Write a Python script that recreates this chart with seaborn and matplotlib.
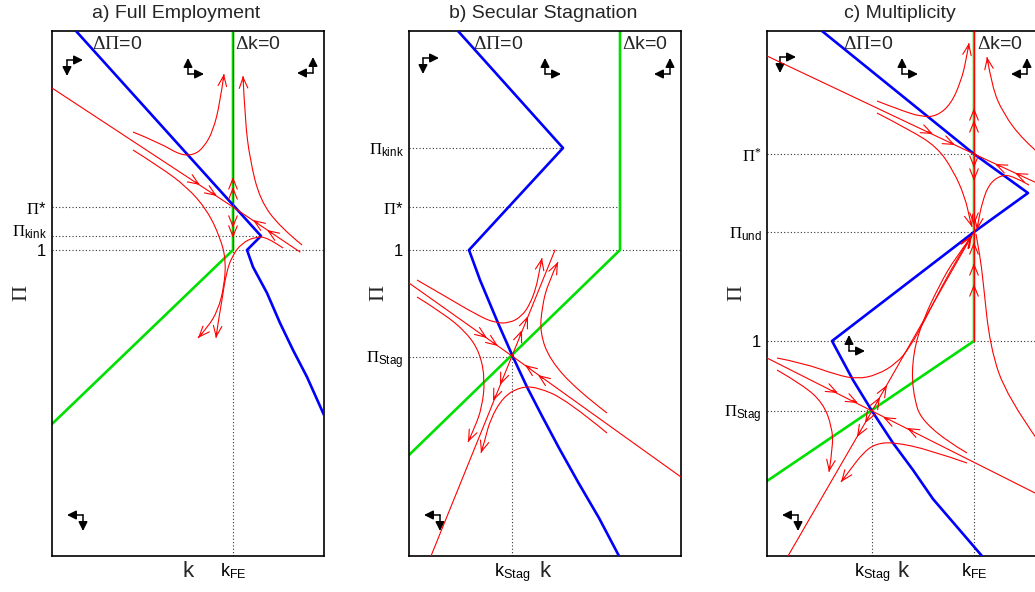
import numpy as np
import matplotlib.pyplot as plt
import seaborn as sns
from matplotlib.path import Path
from matplotlib.patches import PathPatch
from matplotlib.transforms import ScaledTranslation

sns.set_theme(style="white")
plt.rcParams['font.family'] = ['Liberation Sans', 'DejaVu Sans']
plt.rcParams['mathtext.fontset'] = 'custom'
plt.rcParams['mathtext.rm'] = 'Liberation Serif'
plt.rcParams['mathtext.it'] = 'Liberation Serif:italic'
plt.rcParams['mathtext.bf'] = 'Liberation Serif:bold'
plt.rcParams['mathtext.sf'] = 'Liberation Sans'

# all curve data in panel units: k from 0 to 272, Pi from 0 to 525

# ---- a) Full Employment
a_blue = [(24, 525), (209, 320), (195, 306), (201, 289), (215, 263), (228, 233), (241, 206), (255, 179), (272, 141)]
a_green = [(181, 525), (181, 306), (0, 132)]
a_yticks = [306, 320, 349]
a_ylabels = ["1", r"$\Pi_{\mathsf{kink}}$", r"$\Pi$*"]
a_xticks = [181]
a_xlabels = [r"k$_{\mathsf{FE}}$"]
a_hdots = [(349, 181), (320, 209), (306, 272)]
a_vdots = [(181, 306)]
a_traj = [
    [(181, 306), (181, 525)],
    [(0, 468), (181, 349), (248, 304)],
    [(81, 424), (108, 413), (128, 401), (142, 401), (152, 409), (161, 425), (168, 453), (172, 482)],
    [(81, 406), (108, 389), (135, 369), (155, 346), (168, 319), (174, 296), (172, 269), (166, 246), (156, 229), (146, 218)],
    [(231, 308), (215, 319), (203, 319), (190, 313), (180, 300), (174, 282), (170, 256), (166, 233), (164, 218)],
    [(250, 311), (228, 329), (208, 356), (198, 396), (193, 436), (191, 480)],
]
a_ends = [2, 3, 4, 5]
# (tip, point behind the tip)
a_heads = [((148, 371), (0, 468)), ((165, 360), (0, 468)), ((201, 336), (248, 304)), ((215, 326), (248, 304)),
           ((181, 379), (181, 300)), ((181, 369), (181, 300)), ((181, 328), (181, 400)), ((181, 318), (181, 400))]
a_glyphs = [(15, 496, 1, -1), (136, 482, 1, 1), (261, 483, -1, 1), (31, 41, -1, -1)]
a_texts = [(40, r"$\Delta\Pi$=0"), (183, r"$\Delta$k=0")]

# ---- b) Secular Stagnation
b_blue = [(49, 525), (154, 408), (60, 306), (71, 276), (89, 233), (104, 199), (118, 169), (133, 140), (150, 108), (169, 74), (190, 38), (210, 0)]
b_green = [(211, 525), (211, 306), (0, 101)]
b_yticks = [199, 306, 349, 408]
b_ylabels = [r"$\Pi_{\mathsf{Stag}}$", "1", r"$\Pi$*", r"$\Pi_{\mathsf{kink}}$"]
b_xticks = [103]
b_xlabels = [r"k$_{\mathsf{Stag}}$"]
b_hdots = [(408, 154), (349, 211), (306, 272), (199, 103)]
b_vdots = [(103, 199)]
b_traj = [
    [(0, 273), (103, 200), (272, 79)],
    [(22, 0), (103, 200), (146, 306)],
    [(8, 276), (34, 261), (68, 241), (86, 233), (101, 233), (113, 240), (121, 252), (127, 268), (130, 283), (133, 298)],
    [(8, 259), (34, 243), (58, 223), (71, 203), (76, 176), (73, 149), (66, 129), (59, 114)],
    [(198, 123), (158, 156), (128, 169), (111, 169), (94, 159), (81, 136), (76, 116), (72, 103)],
    [(198, 143), (168, 166), (141, 196), (131, 223), (133, 249), (139, 273), (149, 294)],
]
b_ends = [2, 3, 4, 5]
b_heads = [((78, 218), (0, 273)), ((89, 210), (0, 273)), ((116, 191), (272, 79)), ((129, 181), (272, 79)),
           ((113, 226), (103, 200)), ((119, 240), (103, 200)), ((91, 171), (103, 200)), ((84, 155), (103, 200))]
b_glyphs = [(14, 498, 1, -1), (136, 482, 1, 1), (261, 482, -1, 1), (31, 41, -1, -1)]
b_texts = [(64, r"$\Delta\Pi$=0"), (213, r"$\Delta$k=0")]

# ---- c) Multiplicity
c_blue = [(55, 525), (207, 402), (261, 363), (207, 324), (65, 215), (86, 176), (105, 145), (126, 113), (146, 86), (166, 57), (215, 0)]
c_green = [(207, 525), (207, 215), (0, 75)]
c_yticks = [145, 215, 324, 402]
c_ylabels = [r"$\Pi_{\mathsf{Stag}}$", "1", r"$\Pi_{\mathsf{und}}$", r"$\Pi^{*}$"]
c_xticks = [105, 207]
c_xlabels = [r"k$_{\mathsf{Stag}}$", r"k$_{\mathsf{FE}}$"]
c_hdots = [(402, 207), (324, 207), (215, 272), (145, 105)]
c_vdots = [(105, 145), (207, 215)]
c_traj = [
    [(207, 215), (207, 525)],
    [(0, 500), (207, 402), (272, 372)],
    [(110, 455), (133, 446), (155, 439), (170, 440), (184, 452), (194, 475), (199, 495), (202, 513)],
    [(110, 443), (143, 426), (170, 409), (186, 386), (198, 359), (203, 336), (205, 329)],
    [(262, 371), (246, 380), (234, 381), (222, 372), (215, 353), (211, 333), (210, 326)],
    [(275, 400), (256, 416), (236, 443), (225, 469), (220, 499)],
    [(0, 198), (105, 145), (272, 61)],
    [(21, 0), (105, 145), (207, 324)],
    [(10, 186), (36, 171), (56, 153), (65, 129), (66, 109), (62, 84)],
    [(200, 93), (163, 106), (126, 114), (108, 112), (96, 103), (83, 86), (74, 74)],
    [(10, 198), (36, 193), (70, 181), (90, 177), (110, 181), (130, 193), (143, 209), (158, 236), (175, 270), (192, 300), (204, 320)],
    [(200, 103), (156, 129), (145, 166), (146, 203), (156, 236), (172, 270), (188, 298), (205, 320)],
    [(209, 322), (213, 300), (216, 276), (223, 209), (240, 159), (272, 114)],
]
c_ends = [2, 3, 4, 5, 8, 9, 10, 11]
c_heads = [((166, 422), (0, 500)), ((188, 411), (0, 500)), ((228, 392), (272, 372)), ((248, 383), (272, 372)),
           ((207, 448), (207, 400)), ((207, 436), (207, 400)), ((207, 388), (207, 420)), ((207, 375), (207, 420)),
           ((207, 331), (207, 380)), ((207, 314), (207, 250)), ((207, 293), (207, 250)), ((207, 272), (207, 230)),
           ((71, 163), (0, 198)), ((91, 153), (0, 198)), ((116, 139), (272, 61)), ((140, 128), (272, 61)),
           ((113, 159), (105, 145)), ((120, 171), (105, 145)), ((98, 133), (105, 145)), ((90, 119), (105, 145)),
           ((205, 321), (160, 246))]
c_glyphs = [(13, 499, 1, -1), (135, 482, 1, 1), (260, 482, -1, 1), (82, 205, 1, 1), (31, 41, -1, -1)]
c_texts = [(76, r"$\Delta\Pi$=0"), (210, r"$\Delta$k=0")]

panels = [
    ("a) Full Employment", 52, -12, a_blue, a_green, a_yticks, a_ylabels, a_xticks, a_xlabels, a_hdots, a_vdots,
     a_traj, a_ends, a_heads, a_glyphs, a_texts),
    ("b) Secular Stagnation", 409, -2, b_blue, b_green, b_yticks, b_ylabels, b_xticks, b_xlabels, b_hdots, b_vdots,
     b_traj, b_ends, b_heads, b_glyphs, b_texts),
    ("c) Multiplicity", 767, -3, c_blue, c_green, c_yticks, c_ylabels, c_xticks, c_xlabels, c_hdots, c_vdots,
     c_traj, c_ends, c_heads, c_glyphs, c_texts),
]

W, H = 1035, 592
RED_HEAD = dict(arrowstyle='->,head_length=0.55,head_width=0.22', color='red', lw=0.8,
                shrinkA=0, shrinkB=0, mutation_scale=14)
BLK_HEAD = dict(arrowstyle='-|>,head_length=0.6,head_width=0.3', color='black', lw=1.1,
                shrinkA=0, shrinkB=0, mutation_scale=9)


def line(ax, pts, color, lw, z):
    p = np.asarray(pts, float)
    sns.lineplot(x=p[:, 0], y=p[:, 1], sort=False, estimator=None, color=color, lw=lw, ax=ax, zorder=z)


def curve(ax, pts, color, lw, z):
    # smooth trajectory: read points act as quadratic bezier controls
    p = np.asarray(pts, float)
    if len(p) < 4:
        line(ax, p, color, lw, z)
        return
    verts, codes = [p[0]], [Path.MOVETO]
    for i in range(1, len(p) - 1):
        end = p[-1] if i == len(p) - 2 else (p[i] + p[i + 1]) / 2
        verts += [p[i], end]
        codes += [Path.CURVE3, Path.CURVE3]
    ax.add_patch(PathPatch(Path(verts, codes), fc='none', ec=color, lw=lw, zorder=z))


def head(ax, tip, frm):
    tip = np.asarray(tip, float)
    d = tip - np.asarray(frm, float)
    d /= np.hypot(*d)
    ax.annotate('', xy=tip, xytext=tip - 6 * d, arrowprops=RED_HEAD, zorder=6)


fig = plt.figure(figsize=(W / 100, H / 100), dpi=100)

for (title, left, tshift, blue, green, yt, yl, xt, xl, hdots, vdots, traj, ends, heads, glyphs, texts) in panels:
    ax = fig.add_axes([left / W, 36 / H, 272 / W, 525 / H])

    for y, x1 in hdots:
        ax.plot([0, x1], [y, y], color='0.2', lw=0.8, ls=(0, (1, 2)), zorder=1)
    for x, y1 in vdots:
        ax.plot([x, x], [0, y1], color='0.2', lw=0.8, ls=(0, (1, 2)), zorder=1)

    line(ax, green, '#00e000', 1.9, 2)
    line(ax, blue, '#0000ff', 1.9, 3)
    for tr in traj:
        curve(ax, tr, 'red', 0.8, 4)
    for i in ends:
        head(ax, traj[i][-1], traj[i][-2])
    for tip, frm in heads:
        head(ax, tip, frm)

    for gx, gy, sx, sy in glyphs:
        ax.annotate('', xy=(gx + 16 * sx, gy), xytext=(gx, gy), arrowprops=BLK_HEAD)
        ax.annotate('', xy=(gx, gy + 16 * sy), xytext=(gx, gy), arrowprops=BLK_HEAD)

    for tx, s in texts:
        ax.text(tx, 520, s, fontsize=14, ha='left', va='top')

    ax.set_xlim(0, 272)
    ax.set_ylim(0, 525)
    ax.set_xticks(xt, xl, fontsize=13)
    ax.set_yticks(yt, yl, fontsize=12)
    ax.tick_params(direction='in', length=4, width=0.8, top=False, right=False, pad=4, colors='black')
    # the kink label in panel a sits a little higher, as in the original
    for lab in ax.get_yticklabels():
        if 'kink' in lab.get_text() and left == 52:
            lab.set_transform(lab.get_transform() + ScaledTranslation(0, 6 / 100, fig.dpi_scale_trans))
    ax.set_title(title, fontsize=14, pad=9)
    ax.title.set_x(0.5 + tshift / 272)
    ax.set_xlabel("k", fontsize=16)
    ax.xaxis.set_label_coords(0.5, -5 / 525)
    ax.set_ylabel(r"$\Pi$", fontsize=16)
    ax.yaxis.set_label_coords(-20 / 272, 0.5)
    for sp in ax.spines.values():
        sp.set_color('black')
        sp.set_linewidth(1.2)

fig.savefig("out.png", dpi=100)
